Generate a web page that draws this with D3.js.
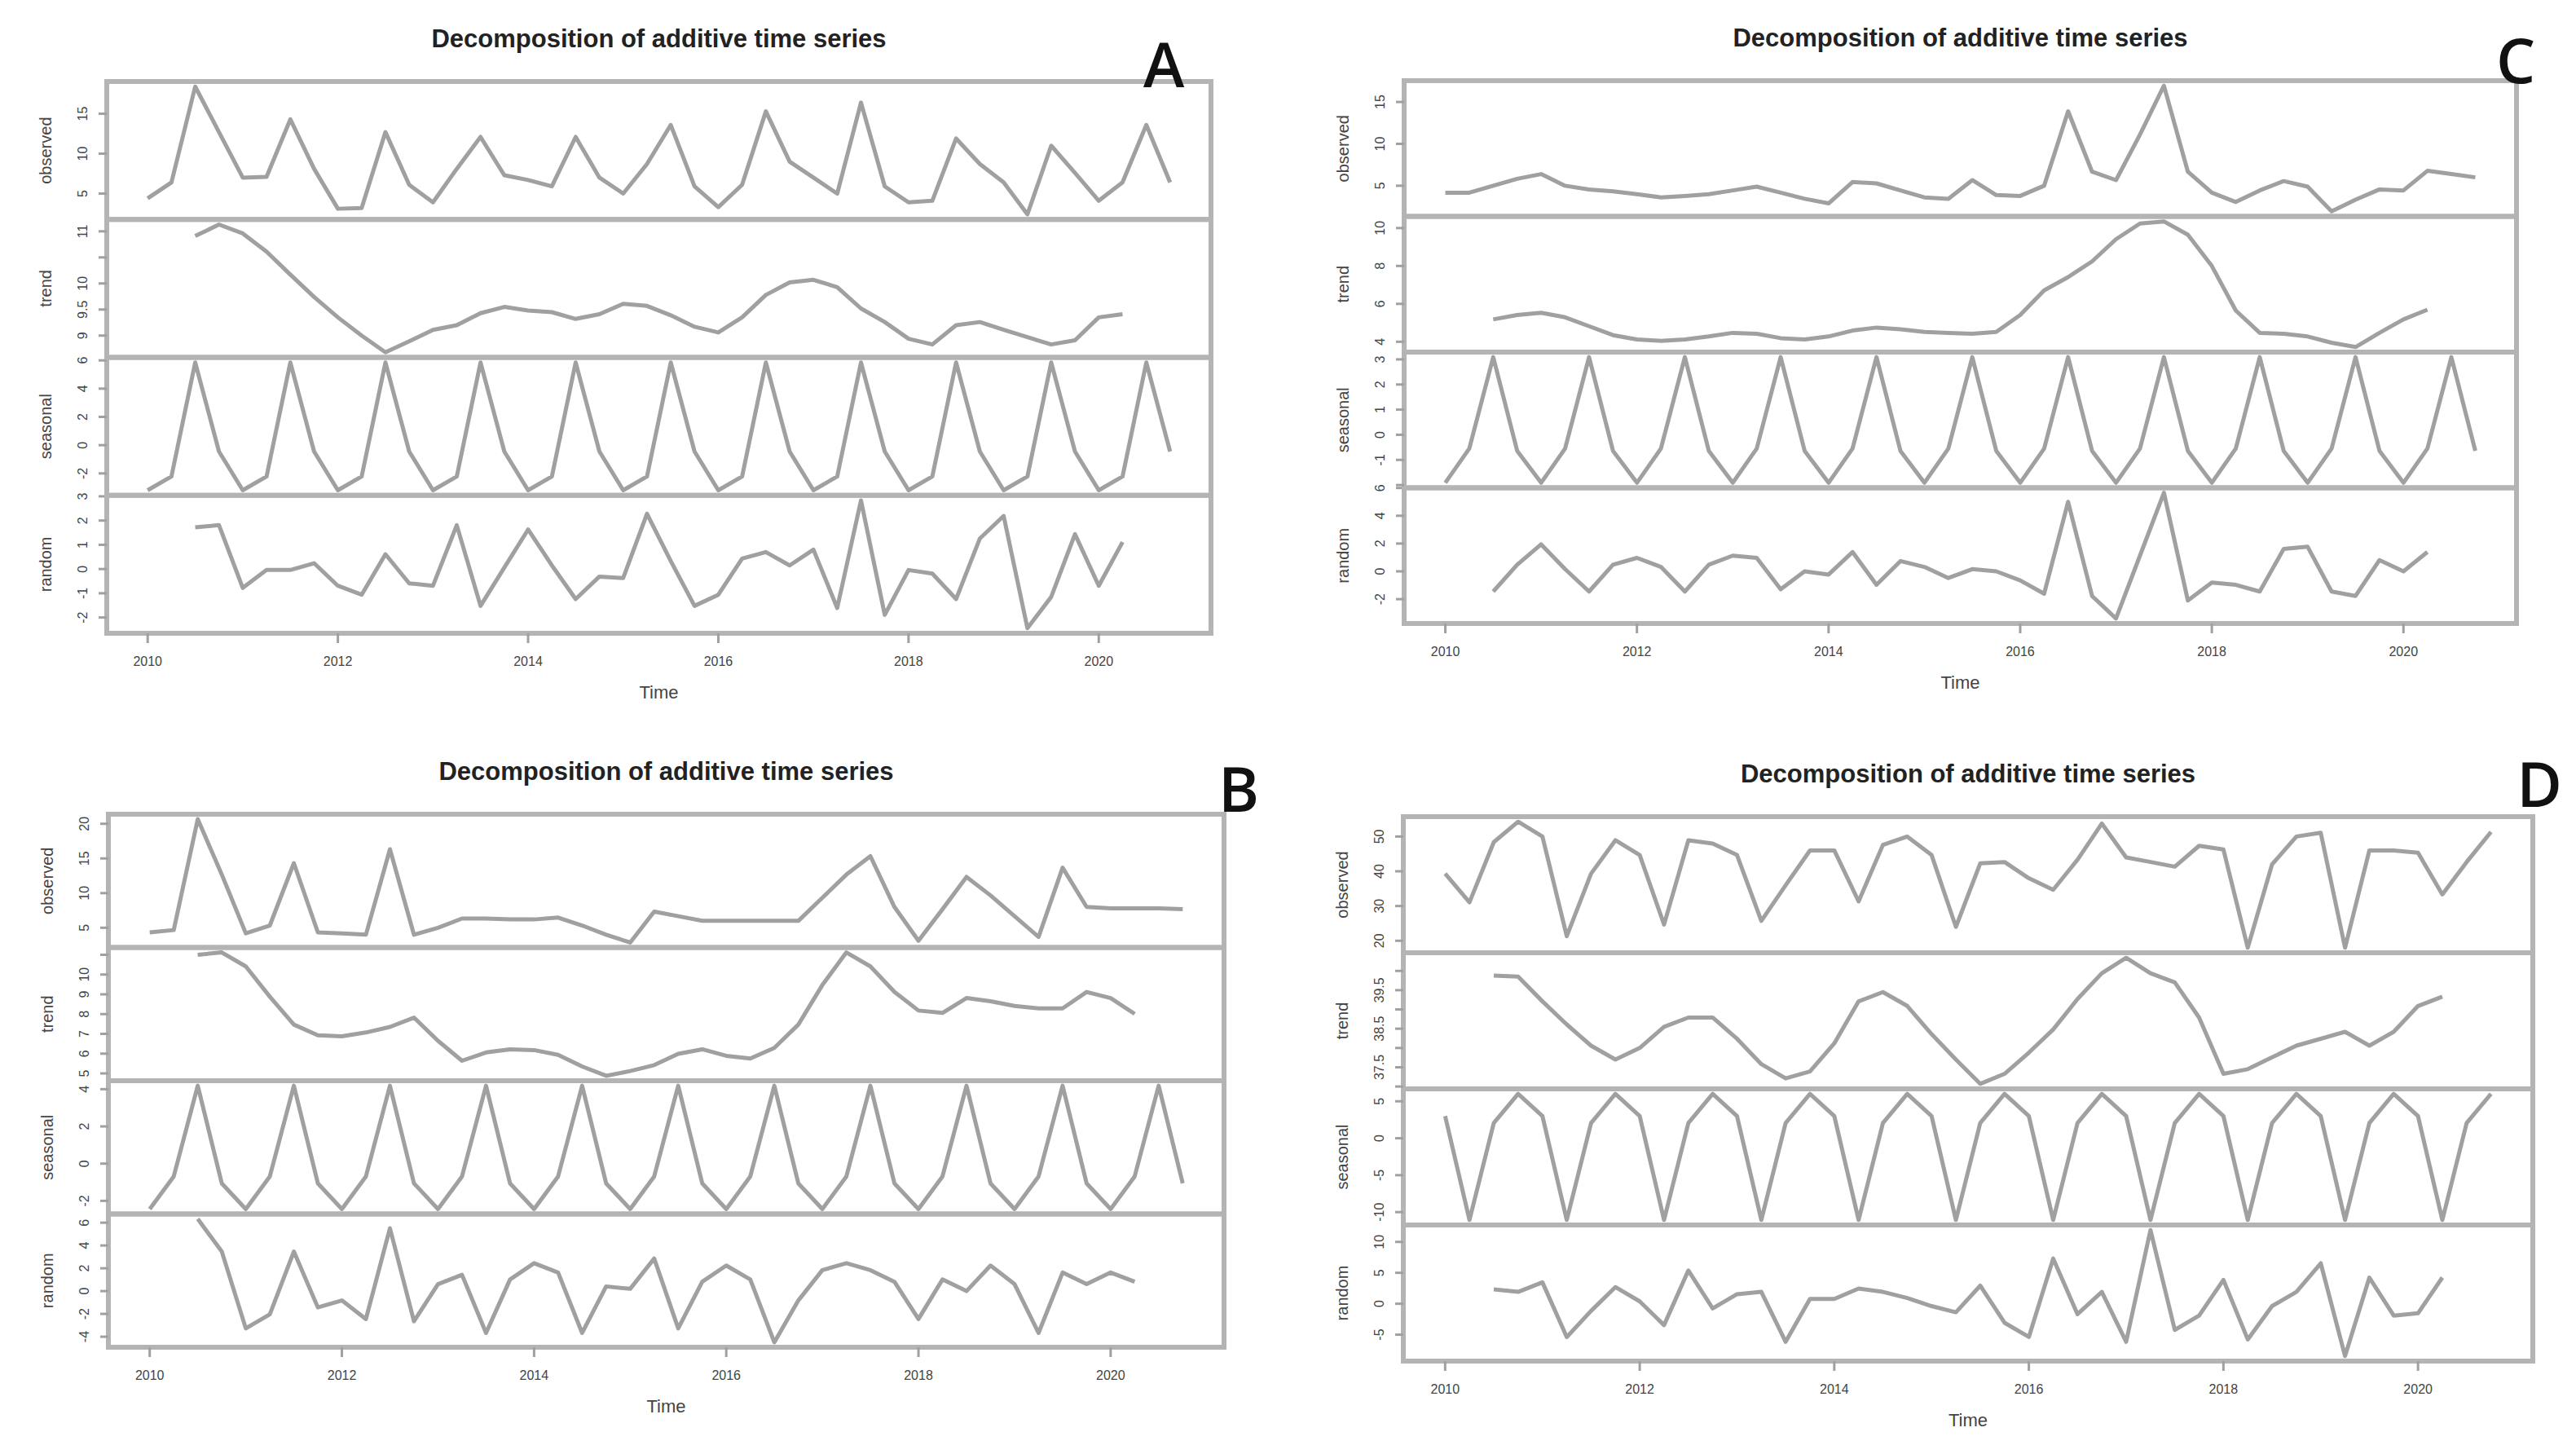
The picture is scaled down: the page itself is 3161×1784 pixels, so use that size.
<!DOCTYPE html>
<html>
<head>
<meta charset="utf-8">
<script src="https://cdn.jsdelivr.net/npm/d3@7"></script>
<style>
  body { margin: 0; background: #fff; }
  svg { display: block; }
</style>
</head>
<body>
<svg id="chart" width="3161" height="1784"></svg>
<script>
// quarterly series, 2010 Q1 .. 2020 Q4
var startYear = 2010;
var freq = 4;
var yearTicks = [2010, 2012, 2014, 2016, 2018, 2020];
var rowNames = ["observed", "trend", "seasonal", "random"];
var mainTitle = "Decomposition of additive time series";

// ---- A ----
var observedA = [4.4, 6.4, 18.4, 12.7, 7.0, 7.1, 14.3, 8.1, 3.1, 3.2, 12.7, 6.1, 3.9, 8.1, 12.1, 7.3, 6.7, 5.9, 12.1, 7.0, 5.0, 8.7,
  13.6, 5.9, 3.3, 6.1, 15.3, 9.0, 7.0, 5.0, 16.4, 5.9, 3.9, 4.1, 11.9, 8.7, 6.4, 2.4, 11.0, 7.6, 4.1, 6.4, 13.6, 6.4];
var trendA = [null, null, 10.91, 11.13, 10.96, 10.61, 10.17, 9.74, 9.35, 9.00, 8.68, 8.89, 9.11, 9.20, 9.43, 9.55, 9.48, 9.45, 9.32, 9.41,
  9.61, 9.57, 9.39, 9.17, 9.06, 9.35, 9.78, 10.02, 10.07, 9.93, 9.52, 9.26, 8.94, 8.83, 9.20, 9.26, 9.11, 8.97, 8.83, 8.91, 9.35, 9.41, null, null];
var seasonalFigA = [-3.19, -2.22, 5.85, -0.45];
var randomA = [null, null, 1.72, 1.81, -0.78, -0.04, -0.04, 0.24, -0.69, -1.06, 0.61, -0.59, -0.69, 1.81, -1.52, 0.06, 1.63, 0.15, -1.24, -0.31,
  -0.37, 2.28, 0.33, -1.52, -1.06, 0.43, 0.70, 0.15, 0.80, -1.61, 2.83, -1.89, -0.04, -0.19, -1.24, 1.26, 2.19, -2.44, -1.15, 1.44, -0.69, 1.11, null, null];

// ---- B ----
var observedB = [4.33, 4.67, 20.67, 12.67, 4.2, 5.33, 14.33, 4.33, 4.2, 4.0, 16.33, 4.0, 5.0, 6.33, 6.33, 6.2, 6.2, 6.47, 5.33, 4.0, 2.87, 7.33,
  6.67, 6.0, 6.0, 6.0, 6.0, 6.0, 9.33, 12.67, 15.33, 8.0, 3.13, 7.67, 12.33, 9.67, 6.67, 3.67, 13.67, 8.0, 7.8, 7.8, 7.8, 7.67];
var trendB = [null, null, 11.0, 11.12, 10.41, 8.88, 7.47, 6.93, 6.88, 7.07, 7.35, 7.82, 6.65, 5.64, 6.06, 6.22, 6.18, 5.94, 5.35, 4.88,
  5.12, 5.42, 5.99, 6.22, 5.89, 5.75, 6.29, 7.47, 9.47, 11.12, 10.41, 9.12, 8.18, 8.06, 8.81, 8.65, 8.41, 8.29, 8.29, 9.12, 8.81, 8.01, null, null];
var seasonalFigB = [-2.44, -0.69, 4.19, -1.06];
var randomB = [null, null, 6.33, 3.47, -3.27, -2.04, 3.47, -1.43, -0.82, -2.45, 5.51, -2.65, 0.61, 1.43, -3.67, 1.02, 2.45, 1.63, -3.67, 0.41,
  0.20, 2.86, -3.27, 0.82, 2.24, 1.02, -4.49, -0.82, 1.84, 2.45, 1.84, 0.82, -2.45, 1.02, 0, 2.24, 0.61, -3.67, 1.63, 0.61, 1.63, 0.82, null, null];

// ---- C ----
var observedC = [4.17, 4.17, 5.0, 5.83, 6.39, 5.0, 4.56, 4.33, 4.0, 3.61, 3.78, 4.0, 4.44, 4.89, 4.17, 3.44, 2.89, 5.44, 5.28, 4.44, 3.61, 3.44,
  5.67, 3.89, 3.78, 5.0, 13.89, 6.67, 5.67, 11.11, 16.94, 6.67, 4.17, 3.06, 4.44, 5.56, 4.89, 1.94, 3.33, 4.56, 4.44, 6.78, 6.39, 6.0];
var trendC = [null, null, 5.18, 5.41, 5.53, 5.29, 4.82, 4.35, 4.12, 4.05, 4.12, 4.28, 4.47, 4.42, 4.19, 4.12, 4.28, 4.59, 4.75, 4.66,
  4.52, 4.47, 4.42, 4.52, 5.41, 6.71, 7.41, 8.24, 9.41, 10.24, 10.35, 9.65, 8.0, 5.65, 4.47, 4.42, 4.28, 3.95, 3.72, 4.47, 5.18, 5.69, null, null];
var seasonalFigC = [-1.91, -0.55, 3.09, -0.64];
var randomC = [null, null, -1.45, 0.48, 1.94, 0.16, -1.45, 0.48, 0.97, 0.32, -1.45, 0.48, 1.13, 0.97, -1.29, 0, -0.23, 1.39, -0.97, 0.74,
  0.32, -0.48, 0.16, 0, -0.65, -1.61, 5.0, -1.77, -3.39, 1.13, 5.65, -2.10, -0.81, -0.97, -1.45, 1.61, 1.77, -1.45, -1.77, 0.81, 0, 1.39, null, null];

// ---- D ----
var observedD = [39.33, 31.07, 48.4, 54.27, 50.0, 21.33, 39.33, 48.93, 44.67, 24.67, 48.93, 48.0, 44.67, 25.73, 36.0, 46.0, 46.0, 31.33, 47.6, 50.0,
  44.67, 24.0, 42.27, 42.67, 38.0, 34.67, 43.33, 53.73, 44.0, 42.67, 41.33, 47.33, 46.27, 18.0, 42.0, 50.0, 51.07, 18.0, 46.0, 46.0, 45.33, 33.33, 42.67, 51.33];
var trendD = [null, null, 39.88, 39.85, 39.21, 38.61, 38.06, 37.70, 38.0, 38.55, 38.79, 38.79, 38.24, 37.58, 37.21, 37.39, 38.12, 39.21, 39.45, 39.09,
  38.36, 37.70, 37.07, 37.33, 37.88, 38.48, 39.27, 39.94, 40.34, 39.94, 39.70, 38.79, 37.33, 37.45, 37.76, 38.06, 38.24, 38.42, 38.06, 38.42, 39.09, 39.33, null, null];
var seasonalFigD = [3.0, -11.06, 2.06, 6.0];
var randomD = [null, null, 2.31, 1.92, 3.46, -5.38, -1.15, 2.69, 0.38, -3.46, 5.38, -0.77, 1.54, 1.92, -6.15, 0.77, 0.77, 2.46, 1.92, 0.92,
  -0.38, -1.38, 2.92, -3.08, -5.38, 7.31, -1.69, 1.92, -6.15, 11.92, -4.23, -1.92, 3.85, -5.77, -0.38, 1.92, 6.54, -8.46, 4.23, -1.92, -1.54, 4.23, null, null];

var panels = [
  { tag: "A", left: 131, right: 1486, top: 100, bottom: 777, tagX: 1428, tagY: 77,
    series: [observedA, trendA, seasonalFigA, randomA] },
  { tag: "C", left: 1723, right: 3088, top: 99, bottom: 765, tagX: 3087, tagY: 72,
    series: [observedC, trendC, seasonalFigC, randomC] },
  { tag: "B", left: 133, right: 1502, top: 999, bottom: 1653, tagX: 1520, tagY: 966,
    series: [observedB, trendB, seasonalFigB, randomB] },
  { tag: "D", left: 1722, right: 3108, top: 1002, bottom: 1670, tagX: 3116, tagY: 960,
    series: [observedD, trendD, seasonalFigD, randomD] }
];

var svg = d3.select("#chart");
var lineCol = "#a0a0a0", boxCol = "#b4b4b4", textCol = "#444";
var tickFont = 16;

// decompose() repeats the seasonal figure over the whole series
function repeatFigure(fig, n) {
  var out = [];
  for (var i = 0; i < n; i++) out.push(fig[i % fig.length]);
  return out;
}

function fmt(v) {
  return String(Math.round(v * 1000) / 1000);
}

function drawPanel(p) {
  var g = svg.append("g");
  var n = p.series[0].length;
  var times = d3.range(n).map(function(i) { return startYear + i / freq; });
  var tx = d3.extent(times), padX = (tx[1] - tx[0]) * 0.04;
  var x = d3.scaleLinear().domain([tx[0] - padX, tx[1] + padX]).range([p.left, p.right]);
  var rowH = (p.bottom - p.top) / 4;

  var rows = [p.series[0], p.series[1], repeatFigure(p.series[2], n), p.series[3]];

  // labels are placed from the bottom row up, skipping any that collide
  var lastY = null, lastHalf = 0;

  for (var r = rows.length - 1; r >= 0; r--) {
    var vals = rows[r];
    var y0 = p.top + r * rowH, y1 = y0 + rowH;
    var ext = d3.extent(vals.filter(function(v) { return v != null; }));
    var pad = (ext[1] - ext[0]) * 0.04;
    var y = d3.scaleLinear().domain([ext[0] - pad, ext[1] + pad]).range([y1, y0]);

    var pts = vals.map(function(v, i) { return { t: times[i], v: v }; });
    var line = d3.line()
      .defined(function(d) { return d.v != null; })
      .x(function(d) { return x(d.t); })
      .y(function(d) { return y(d.v); });

    g.append("path")
      .datum(pts)
      .attr("d", line)
      .attr("fill", "none")
      .attr("stroke", lineCol)
      .attr("stroke-width", 5)
      .attr("stroke-linejoin", "round");

    g.append("rect")
      .attr("x", p.left).attr("y", y0)
      .attr("width", p.right - p.left).attr("height", rowH)
      .attr("fill", "none")
      .attr("stroke", boxCol)
      .attr("stroke-width", 6);

    y.ticks(5).forEach(function(t) {
      var ty = y(t);
      g.append("line")
        .attr("x1", p.left - 10).attr("x2", p.left)
        .attr("y1", ty).attr("y2", ty)
        .attr("stroke", lineCol).attr("stroke-width", 3);
      var lab = fmt(t);
      var half = lab.length * tickFont * 0.28 + 2;
      if (lastY == null || (lastY - ty) >= lastHalf + half + 4) {
        g.append("text")
          .attr("transform", "translate(" + (p.left - 24) + "," + ty + ") rotate(-90)")
          .attr("text-anchor", "middle")
          .attr("font-family", "Liberation Sans, Arial, sans-serif")
          .attr("font-size", tickFont)
          .attr("fill", textCol)
          .text(lab);
        lastY = ty; lastHalf = half;
      }
    });

    g.append("text")
      .attr("transform", "translate(" + (p.left - 68) + "," + ((y0 + y1) / 2) + ") rotate(-90)")
      .attr("text-anchor", "middle")
      .attr("font-family", "Liberation Sans, Arial, sans-serif")
      .attr("font-size", 20)
      .attr("fill", textCol)
      .text(rowNames[r]);
  }

  // time axis under the last row
  yearTicks.forEach(function(yr) {
    g.append("line")
      .attr("x1", x(yr)).attr("x2", x(yr))
      .attr("y1", p.bottom).attr("y2", p.bottom + 12)
      .attr("stroke", lineCol).attr("stroke-width", 3);
    g.append("text")
      .attr("x", x(yr)).attr("y", p.bottom + 40)
      .attr("text-anchor", "middle")
      .attr("font-family", "Liberation Sans, Arial, sans-serif")
      .attr("font-size", tickFont)
      .attr("fill", textCol)
      .text(yr);
  });

  g.append("text")
    .attr("x", (p.left + p.right) / 2).attr("y", p.bottom + 80)
    .attr("text-anchor", "middle")
    .attr("font-family", "Liberation Sans, Arial, sans-serif")
    .attr("font-size", 22)
    .attr("fill", textCol)
    .text("Time");

  g.append("text")
    .attr("x", (p.left + p.right) / 2).attr("y", p.top - 42)
    .attr("text-anchor", "middle")
    .attr("font-family", "Liberation Sans, Arial, sans-serif")
    .attr("font-weight", "bold")
    .attr("font-size", 31)
    .attr("fill", "#222")
    .text(mainTitle);

  g.append("text")
    .attr("x", p.tagX).attr("y", p.tagY)
    .attr("text-anchor", "middle")
    .attr("dominant-baseline", "central")
    .attr("font-family", "Open Sans, Noto Sans, sans-serif")
    .attr("font-weight", 600)
    .attr("font-size", 76)
    .attr("fill", "#111")
    .text(p.tag);
}

panels.forEach(drawPanel);
</script>
</body>
</html>
